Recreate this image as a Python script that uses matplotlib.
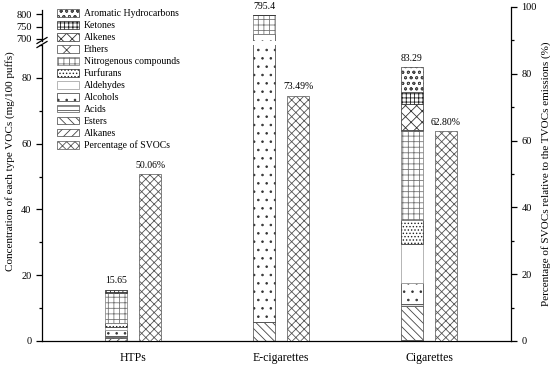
import numpy as np
import matplotlib.pyplot as plt
from matplotlib.lines import Line2D
from matplotlib.ticker import MultipleLocator

plt.rcParams.update({
    "font.family": "Liberation Serif",
    "font.size": 7.5,
    "axes.linewidth": 0.9,
    "hatch.linewidth": 0.6,
    "xtick.direction": "out",
    "ytick.direction": "out",
})

# Data (mg/100 puffs), stacked bottom -> top
categories = ["HTPs", "E-cigarettes", "Cigarettes"]
voc_types = ["Alkanes", "Esters", "Acids", "Alcohols", "Aldehydes", "Furfurans",
             "Nitrogenous compounds", "Ethers", "Alkenes", "Ketones",
             "Aromatic Hydrocarbons"]
alkanes = [1.0, 0.0, 0.3]
esters = [0.2, 5.8, 10.3]
acids = [0.3, 0.0, 0.6]
alcohols = [1.8, 715.0, 6.5]
aldehydes = [1.0, 0.0, 11.8]
furfurans = [1.3, 0.0, 7.3]
nitrogenous = [9.1, 74.1, 27.1]
ethers = [0.0, 0.0, 0.3]
alkenes = [0.1, 0.0, 8.0]
ketones = [0.85, 0.5, 3.6]
aromatic = [0.0, 0.0, 7.49]
total_labels = ["15.65", "795.4", "83.29"]

svoc_pct = [50.06, 73.49, 62.80]
pct_labels = ["50.06%", "73.49%", "62.80%"]

series = [alkanes, esters, acids, alcohols, aldehydes, furfurans,
          nitrogenous, ethers, alkenes, ketones, aromatic]
hatches = ["////", "\\\\\\\\", "----", "..", "", ".....",
           "+++", "xx", "xxx", "++++", "ooo"]
edge_cols = ["#444444", "#444444", "#555555", "#333333", "#999999", "#222222",
             "#777777", "#444444", "#333333", "#222222", "#444444"]

W, H = 550, 367
fig = plt.figure(figsize=(W / 100, H / 100), dpi=100)

def px_rect(x0, y_top, x1, y_bot):
    return [x0 / W, 1 - y_bot / H, (x1 - x0) / W, (y_bot - y_top) / H]

ax_top = fig.add_axes(px_rect(42, 10, 511, 41))
ax_bot = fig.add_axes(px_rect(42, 45, 511, 341))
ax_pct = fig.add_axes(px_rect(42, 7, 511, 341))

x = np.arange(len(categories))
width = 0.152
offset = 0.115
xlim = (-0.615, 2.554)

handles = []
for ax in (ax_top, ax_bot):
    bottom = np.zeros(len(categories))
    for name, vals, hatch, ec in zip(voc_types, series, hatches, edge_cols):
        b = ax.bar(x - offset, vals, width, bottom=bottom, color="white",
                   edgecolor=ec, linewidth=0.5, hatch=hatch, label=name)
        bottom += np.array(vals)
        if ax is ax_bot:
            handles.append(b)
    totals = bottom

for i, t in enumerate(totals):
    ax = ax_top if t > 90 else ax_bot
    ax.annotate(total_labels[i], (x[i] - offset, t), xytext=(0, 3),
                textcoords="offset points", ha="center", va="bottom",
                fontsize=7, annotation_clip=False)

pct_bars = ax_pct.bar(x + offset, svoc_pct, width, color="white",
                      edgecolor="#555555", linewidth=0.5, hatch="xxxx",
                      label="Percentage of SVOCs")
for i, p in enumerate(svoc_pct):
    ax_pct.annotate(pct_labels[i], (x[i] + offset, p), xytext=(0, 3),
                    textcoords="offset points", ha="center", va="bottom",
                    fontsize=7)

# Lower (main) left axis
ax_bot.set_ylim(0, 90)
ax_bot.yaxis.set_major_locator(MultipleLocator(20))
ax_bot.yaxis.set_minor_locator(MultipleLocator(10))
ax_bot.set_xticks(x)
ax_bot.set_xticklabels(categories, fontsize=8.5)
ax_bot.tick_params(axis="x", length=0, pad=8)
ax_bot.tick_params(axis="y", which="major", length=4, width=0.9)
ax_bot.tick_params(axis="y", which="minor", length=2.5, width=0.9)
ax_bot.spines[["top", "right"]].set_visible(False)

# Upper (broken) left axis
ax_top.set_ylim(691.7, 816.7)
ax_top.set_yticks([700, 750, 800])
ax_top.tick_params(axis="y", length=4, width=0.9)
ax_top.set_xticks([])
ax_top.spines[["top", "right", "bottom"]].set_visible(False)

# Right axis for percentages
ax_pct.set_ylim(0, 100)
ax_pct.patch.set_visible(False)
ax_pct.yaxis.tick_right()
ax_pct.yaxis.set_label_position("right")
ax_pct.yaxis.set_major_locator(MultipleLocator(20))
ax_pct.yaxis.set_minor_locator(MultipleLocator(10))
ax_pct.tick_params(axis="y", which="major", length=4, width=0.9)
ax_pct.tick_params(axis="y", which="minor", length=2.5, width=0.9)
ax_pct.set_xticks([])
ax_pct.spines[["top", "left", "bottom"]].set_visible(False)
ax_pct.set_ylabel("Percentage of SVOCs relative to the TVOCs emissions (%)",
                  fontsize=8, labelpad=3)

for ax in (ax_top, ax_bot, ax_pct):
    ax.set_xlim(*xlim)

# Axis break marks
for yc in (40.5, 44.5):
    fig.add_artist(Line2D([37 / W, 47 / W],
                          [1 - (yc + 3) / H, 1 - (yc - 3) / H],
                          color="black", linewidth=0.9))

fig.text(10 / W, 1 - 161 / H, "Concentration of each type VOCs (mg/100 puffs)",
         rotation=90, ha="center", va="center", fontsize=8)

leg_handles = handles[::-1] + [pct_bars]
leg_labels = voc_types[::-1] + ["Percentage of SVOCs"]
fig.legend(leg_handles, leg_labels, loc="upper left",
           bbox_to_anchor=(57 / W, 1 - 9 / H), frameon=False, fontsize=7,
           handlelength=2.3, handleheight=0.85, handletextpad=0.45,
           labelspacing=0.28, borderpad=0, borderaxespad=0)

fig.savefig("out.png", dpi=100)
